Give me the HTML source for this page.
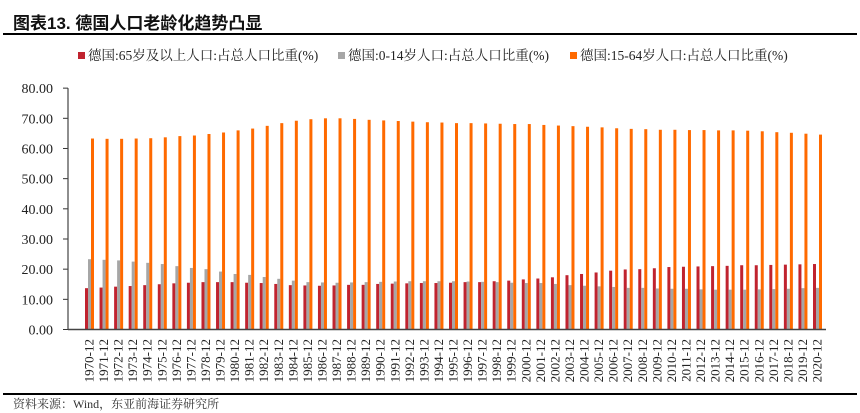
<!DOCTYPE html>
<html><head><meta charset="utf-8"><style>
body{margin:0;background:#fff;}
svg{display:block;font-family:"Liberation Serif","Noto Serif CJK SC",serif;}
</style></head><body>
<svg id="chart" width="860" height="413" viewBox="0 0 860 413">
<text x="13" y="29" font-family="'Liberation Sans','Noto Sans CJK SC',sans-serif" font-weight="bold" font-size="17" fill="#111">图表13.  德国人口老龄化趋势凸显</text>
<rect x="3" y="33" width="854" height="2" fill="#000"/>
<g>
<g><rect x="78" y="52" width="7" height="7" fill="#c0232f"/><text x="88" y="60" font-size="13.5" fill="#222">德国:65岁及以上人口:占总人口比重(%)</text></g>
<g><rect x="338" y="52" width="7" height="7" fill="#a6a6a6"/><text x="348" y="60" font-size="13.5" fill="#222">德国:0-14岁人口:占总人口比重(%)</text></g>
<g><rect x="570" y="52" width="7" height="7" fill="#ff6a00"/><text x="580" y="60" font-size="13.5" fill="#222">德国:15-64岁人口:占总人口比重(%)</text></g>
</g>
<g id="yaxis"></g>
<g id="bars"></g>
<g id="xaxis"></g>
<rect x="3" y="393" width="854" height="2" fill="#000"/>
<text x="13" y="408" font-size="12" fill="#333">资料来源：Wind，东亚前海证券研究所</text>
</svg>
<script>
const years = [];
for (let y = 1970; y <= 2020; y++) years.push(y + "-12");
const age65 = [13.7,13.9,14.2,14.4,14.7,15.0,15.3,15.5,15.7,15.7,15.7,15.5,15.4,15.1,14.7,14.6,14.5,14.6,14.8,14.8,15.1,15.2,15.3,15.4,15.4,15.5,15.7,15.7,16.0,16.2,16.6,16.9,17.3,18.0,18.4,18.9,19.5,19.9,20.0,20.3,20.7,20.8,20.9,21.0,21.1,21.3,21.3,21.4,21.5,21.6,21.7];
const age0to14 = [23.3,23.1,22.9,22.5,22.1,21.7,21.0,20.4,20.0,19.2,18.4,18.1,17.4,16.8,16.2,15.7,15.6,15.5,15.6,15.7,15.8,15.9,16.0,16.0,16.0,16.0,15.9,15.8,15.7,15.5,15.4,15.4,15.1,14.7,14.5,14.3,14.1,13.8,13.8,13.6,13.5,13.5,13.3,13.2,13.2,13.2,13.3,13.4,13.5,13.7,13.8];
const age15to64 = [63.3,63.2,63.2,63.3,63.4,63.7,64.1,64.3,64.8,65.3,66.0,66.6,67.5,68.4,69.2,69.7,70.0,70.0,69.8,69.5,69.3,69.1,68.9,68.7,68.6,68.4,68.4,68.3,68.2,68.1,68.1,67.8,67.6,67.4,67.2,67.0,66.7,66.5,66.4,66.2,66.2,66.1,66.1,66.0,66.0,65.9,65.7,65.4,65.2,64.9,64.6];
const yTicks = [0,10,20,30,40,50,60,70,80];
const yTickLabels = ["0.00","10.00","20.00","30.00","40.00","50.00","60.00","70.00","80.00"];

const NS = "http://www.w3.org/2000/svg";
const yS = v => 329.5 - v * 3.017;
const xS = i => 85 + i * 14.56;
function mk(tag, attrs, parent){const e=document.createElementNS(NS,tag);for(const k in attrs)e.setAttribute(k,attrs[k]);parent.appendChild(e);return e;}
const ya=document.getElementById("yaxis"), ba=document.getElementById("bars"), xa=document.getElementById("xaxis");
yTicks.forEach((t,i)=>{
  const y=yS(t);
  const tk=mk("line",{x1:63,x2:68,y1:y,y2:y,stroke:"#333","stroke-width":1},ya);
  
  
  const tx=mk("text",{x:53,y:y+5,"text-anchor":"end","font-size":"14",fill:"#222"},ya);
  tx.textContent=yTickLabels[i];
  
  
});
const yl=mk("line",{x1:68,x2:68,y1:yS(80),y2:yS(0),stroke:"#444","stroke-width":1.2},ya);


const series=[[age65,"#c0232f",0,"bar-65plus"],[age0to14,"#a6a6a6",3,"bar-0-14"],[age15to64,"#ff6a00",6,"bar-15-64"]];
years.forEach((yr,i)=>{
  series.forEach(s=>{
    const v=s[0][i];
    const r=mk("rect",{x:xS(i)+s[2],y:yS(v),width:3,height:yS(0)-yS(v),fill:s[1]},ba);
    
    
  });
  const cx=xS(i)+4.5;
  const t=mk("text",{transform:`translate(${cx+4},339) rotate(-90)`,"text-anchor":"end","font-size":"13",fill:"#222"},xa);
  t.textContent=yr;
  
  
});
const xl=mk("line",{x1:68,x2:826,y1:yS(0),y2:yS(0),stroke:"#444","stroke-width":1.5},xa);


</script>
</body></html>
